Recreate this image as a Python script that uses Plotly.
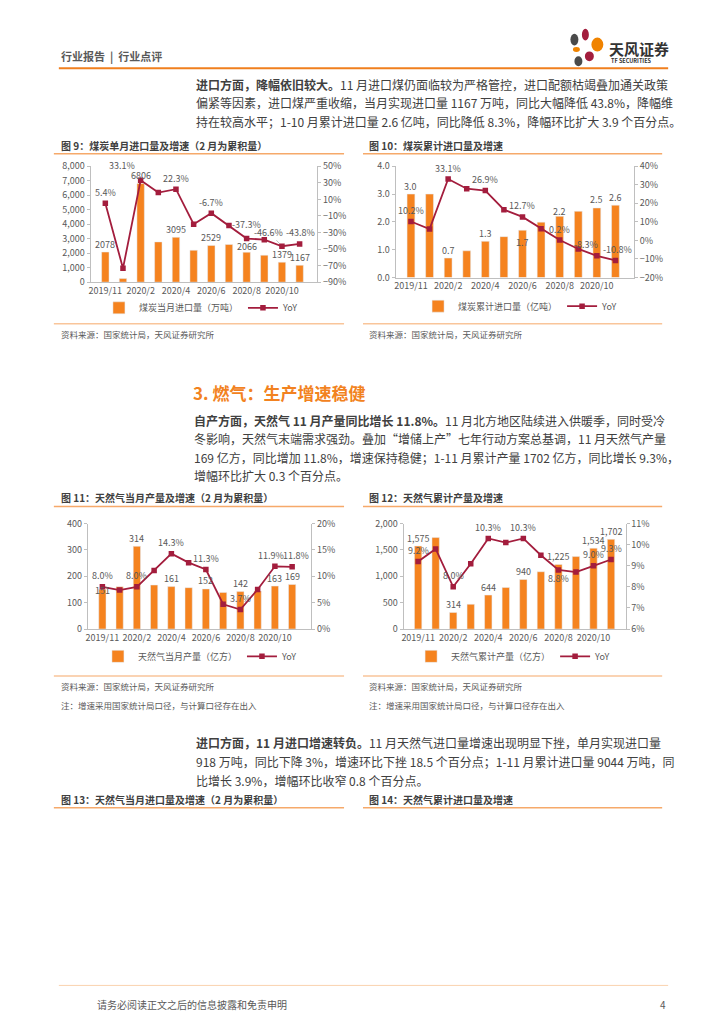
import plotly.graph_objects as go

W, H = 724, 1024
def X(p): return p / W
def Y(p): return 1 - p / H

# ---------------- data ----------------
cats = ["2019/11", "2019/12", "2020/2", "2020/3", "2020/4", "2020/5",
        "2020/6", "2020/7", "2020/8", "2020/9", "2020/10", "2020/11"]
tick_cats = ["2019/11", "2020/2", "2020/4", "2020/6", "2020/8", "2020/10"]

coal_month = [2078, 250, 6806, 2780, 3095, 2200, 2529, 2600, 2066, 1860, 1379, 1167]
coal_month_yoy = [5.4, -73.3, 33.1, 18.2, 22.3, -20.0, -6.7, -21.6, -37.3, -38.7, -46.6, -43.8]
coal_cum = [3.0, 3.0, 0.7, 0.96, 1.3, 1.47, 1.7, 1.99, 2.2, 2.38, 2.5, 2.6]
coal_cum_yoy = [10.2, 6.1, 33.1, 27.9, 26.9, 16.6, 12.7, 6.3, 0.2, -4.6, -8.3, -10.8]
gas_month = [151, 160, 314, 167, 161, 157, 152, 139, 142, 144, 163, 169]
gas_month_yoy = [8.0, 7.4, 8.0, 11.1, 14.3, 12.6, 11.3, 4.7, 3.7, 7.5, 11.9, 11.8]
gas_cum = [1575, 1736, 314, 469, 644, 787, 940, 1087, 1225, 1375, 1534, 1702]
gas_cum_yoy = [9.2, 9.8, 8.0, 9.1, 10.3, 10.1, 10.3, 9.5, 8.8, 8.7, 9.0, 9.3]

labeled = [0, 2, 4, 6, 8, 10, 11]

BAR = "#F5831F"
LINE = "#A31D3D"
AX = "#BFBFBF"
TXT = "#595959"
DARK = "#3A3A3A"
FONT = "Noto Sans CJK SC"

charts = [
    dict(bars=coal_month, yoy=coal_month_yoy, bname="煤炭当月进口量（万吨）",
         xd=(88.8, 316), yd=(161.3, 278.7), lr=[0, 8000], ld=1000, lf=",d",
         rr=[-90, 50], rd=20, r0=-90, leg=(200, 304.7), bfmt="{:d}",
         bshift={8: 6}, rshift={8: 14}, rx={11: 1},
         arrows={2: (-19, -15), 10: (-13, -14)}),
    dict(bars=coal_cum, yoy=coal_cum_yoy, bname="煤炭累计进口量（亿吨）",
         xd=(394.7, 633.7), yd=(161.3, 274), lr=[0, 4], ld=1, lf=".1f",
         rr=[-20, 40], rd=10, r0=-20, leg=(520, 303), bfmt="{:.1f}",
         bshift={6: -12, 8: 5}, rshift={}, rx={10: -11, 11: 2}, arrows={}),
    dict(bars=gas_month, yoy=gas_month_yoy, bname="天然气当月产量（亿方）",
         xd=(86, 310), yd=(523.3, 630), lr=[0, 400], ld=100, lf="d",
         rr=[0, 20], rd=5, r0=0, leg=(199, 657.7), bfmt="{:d}",
         bshift={0: -1}, rshift={}, rx={10: -4, 11: 4}, arrows={}),
    dict(bars=gas_cum, yoy=gas_cum_yoy, bname="天然气累计产量（亿方）",
         xd=(402.7, 625.3), yd=(523.3, 630), lr=[0, 2000], ld=500, lf=",d",
         rr=[6, 11], rd=1, r0=6, leg=(513, 657.7), bfmt="{:,}",
         bshift={}, rshift={8: -8}, rx={}, arrows={}),
]

fig = go.Figure()
annotations = []
layout_axes = {}

for k, c in enumerate(charts, start=1):
    xref = "x" if k == 1 else f"x{k}"
    xname = "xaxis" if k == 1 else f"xaxis{k}"
    li, ri = 2 * k - 1, 2 * k
    lref = "y" if li == 1 else f"y{li}"
    lname = "yaxis" if li == 1 else f"yaxis{li}"
    rref, rname = f"y{ri}", f"yaxis{ri}"
    legname = "legend" if k == 1 else f"legend{k}"

    fig.add_trace(go.Bar(x=cats, y=c["bars"], name=c["bname"], marker_color=BAR,
                         width=0.42, xaxis=xref, yaxis=lref, legend=legname))
    fig.add_trace(go.Scatter(x=cats, y=c["yoy"], name="YoY", mode="lines+markers",
                             line=dict(color=LINE, width=1.8),
                             marker=dict(symbol="square", size=5.5, color=LINE),
                             xaxis=xref, yaxis=rref, legend=legname))

    layout_axes[xname] = dict(domain=[X(c["xd"][0]), X(c["xd"][1])], anchor=lref,
                              type="category", tickvals=tick_cats, showline=True,
                              linecolor=AX, linewidth=1, ticks="", showgrid=False,
                              tickfont=dict(size=9, color=TXT, family=FONT))
    layout_axes[lname] = dict(domain=[Y(c["yd"][1]), Y(c["yd"][0])], anchor=xref,
                              range=c["lr"], dtick=c["ld"], tick0=0, tickformat=c["lf"],
                              showline=True, linecolor=AX, ticks="outside", ticklen=3,
                              tickcolor=AX, showgrid=False, zeroline=False,
                              tickfont=dict(size=9, color=TXT, family=FONT))
    layout_axes[rname] = dict(domain=[Y(c["yd"][1]), Y(c["yd"][0])], anchor=xref,
                              overlaying=lref, side="right", range=c["rr"],
                              dtick=c["rd"], tick0=c["r0"], ticksuffix="%",
                              showline=True, linecolor=AX, ticks="outside", ticklen=3,
                              tickcolor=AX, showgrid=False, zeroline=False,
                              tickfont=dict(size=9, color=TXT, family=FONT))
    layout_axes[legname] = dict(orientation="h", x=X(c["leg"][0]), y=Y(c["leg"][1]),
                                xanchor="center", yanchor="middle",
                                font=dict(size=9, color=TXT, family=FONT),
                                bgcolor="rgba(0,0,0,0)", itemwidth=30,
                                traceorder="normal")

    for i in labeled:
        annotations.append(dict(x=cats[i], y=c["bars"][i], xref=xref, yref=lref,
                                text=c["bfmt"].format(c["bars"][i]), showarrow=False,
                                yshift=c["bshift"].get(i, 8),
                                font=dict(size=9, color=TXT, family=FONT)))
        txt = f"{c['yoy'][i]:.1f}%"
        if i in c["arrows"]:
            ax, ay = c["arrows"][i]
            annotations.append(dict(x=cats[i], y=c["yoy"][i], xref=xref, yref=rref,
                                    text=txt, showarrow=True, ax=ax, ay=ay,
                                    arrowhead=0, arrowwidth=0.6, arrowcolor="#9A9A9A",
                                    standoff=3,
                                    font=dict(size=9, color=TXT, family=FONT)))
        else:
            annotations.append(dict(x=cats[i], y=c["yoy"][i], xref=xref, yref=rref,
                                    text=txt, showarrow=False,
                                    yshift=c["rshift"].get(i, 11),
                                    xshift=c["rx"].get(i, 0),
                                    font=dict(size=9, color=TXT, family=FONT)))

# ---------------- page texts ----------------
def txt(px, py, s, size=12, color=DARK, anchor="left", bold=False):
    if bold:
        s = f"<b>{s}</b>"
    annotations.append(dict(x=X(px), y=Y(py), xref="paper", yref="paper", text=s,
                            showarrow=False, xanchor=anchor, yanchor="middle",
                            font=dict(size=size, color=color, family=FONT)))

NB = "\u00a0"
txt(57, 50, f"行业报告{NB}{NB}|{NB}{NB}行业点评", size=11, color="#595959", bold=True)
txt(607, 42, "天风证券", size=15, color="#333333", bold=True)
txt(609, 55, "TF SECURITIES", size=5.5, color="#333333", bold=True)

p1 = ["<b>进口方面，降幅依旧较大。</b>11 月进口煤仍面临较为严格管控，进口配额枯竭叠加通关政策",
      "偏紧等因素，进口煤严重收缩，当月实现进口量 1167 万吨，同比大幅降低 43.8%，降幅维",
      "持在较高水平；1-10 月累计进口量 2.6 亿吨，同比降低 8.3%，降幅环比扩大 3.9 个百分点。"]
for j, s in enumerate(p1):
    txt(193, 78 + j * 19, s, size=12, color="#404040")

txt(57, 140, "图 9：煤炭单月进口量及增速（2 月为累积量）", size=10, color="#404040", bold=True)
txt(366, 140, "图 10：煤炭累计进口量及增速", size=10, color="#404040", bold=True)
txt(57, 331, "资料来源：国家统计局，天风证券研究所", size=8.5, color=TXT)
txt(366, 331, "资料来源：国家统计局，天风证券研究所", size=8.5, color=TXT)

txt(190, 390, "3. 燃气：生产增速稳健", size=17, color="#F28220", bold=True)
p2 = ["<b>自产方面，天然气 11 月产量同比增长 11.8%。</b>11 月北方地区陆续进入供暖季，同时受冷",
      "冬影响，天然气末端需求强劲。叠加“增储上产”七年行动方案总基调，11 月天然气产量",
      "169 亿方，同比增加 11.8%，增速保持稳健；1-11 月累计产量 1702 亿方，同比增长 9.3%，",
      "增幅环比扩大 0.3 个百分点。"]
for j, s in enumerate(p2):
    txt(191, 419 + j * 18.5, s, size=12, color="#404040")

txt(57, 497, "图 11：天然气当月产量及增速（2 月为累积量）", size=10, color="#404040", bold=True)
txt(366, 497, "图 12：天然气累计产量及增速", size=10, color="#404040", bold=True)
for px in (57, 366):
    txt(px, 688, "资料来源：国家统计局，天风证券研究所", size=8.5, color=TXT)
    txt(px, 707, "注：增速采用国家统计局口径，与计算口径存在出入", size=8.5, color=TXT)

p3 = ["<b>进口方面，11 月进口增速转负。</b>11 月天然气进口量增速出现明显下挫，单月实现进口量",
      "918 万吨，同比下降 3%，增速环比下挫 18.5 个百分点；1-11 月累计进口量 9044 万吨，同",
      "比增长 3.9%，增幅环比收窄 0.8 个百分点。"]
for j, s in enumerate(p3):
    txt(193, 745 + j * 19, s, size=12, color="#404040")

txt(57, 803, "图 13：天然气当月进口量及增速（2 月为累积量）", size=10, color="#404040", bold=True)
txt(366, 803, "图 14：天然气累计进口量及增速", size=10, color="#404040", bold=True)

txt(93, 1010, "请务必阅读正文之后的信息披露和免责申明", size=10, color=TXT)
txt(668, 1010, "4", size=10, color=TXT, anchor="right")

# ---------------- rules & logo ----------------
shapes = []
def hline(x0, x1, py, color, width):
    shapes.append(dict(type="line", xref="paper", yref="paper", x0=X(x0), x1=X(x1),
                       y0=Y(py), y1=Y(py), line=dict(color=color, width=width)))

hline(57, 668, 62, "#F07F1E", 2)
for py in (148.7, 506, 811):
    hline(52, 343, py, "#F6A96A", 1.5)
    hline(362, 662, py, "#F6A96A", 1.5)
for py in (320.7, 677.7):
    hline(52, 343, py, "#F9C59A", 1.5)
    hline(362, 662, py, "#F9C59A", 1.5)
hline(57, 668, 991, "#FAD2AE", 1)

def blob(cx, cy, w, h, color):
    shapes.append(dict(type="circle", xref="paper", yref="paper",
                       x0=X(cx - w / 2), x1=X(cx + w / 2), y0=Y(cy + h / 2), y1=Y(cy - h / 2),
                       fillcolor=color, line=dict(width=0)))

blob(574, 33, 8, 12, "#4A4A4A")
blob(585, 28, 7, 12, "#A31D3D")
blob(597, 38, 12, 14, "#F08300")
blob(576, 43, 7, 5, "#F08300")
blob(589, 50, 9, 10, "#A31D3D")
blob(578, 55, 8, 10, "#4A4A4A")

fig.update_layout(width=W, height=H, margin=dict(l=0, r=0, t=0, b=0),
                  paper_bgcolor="white", plot_bgcolor="white",
                  font=dict(family=FONT, color=TXT), barmode="overlay",
                  annotations=annotations, shapes=shapes, **layout_axes)

fig.write_html("out.html", config={"displayModeBar": False},
               post_script="document.body.style.margin='0';document.body.style.overflow='hidden';")
